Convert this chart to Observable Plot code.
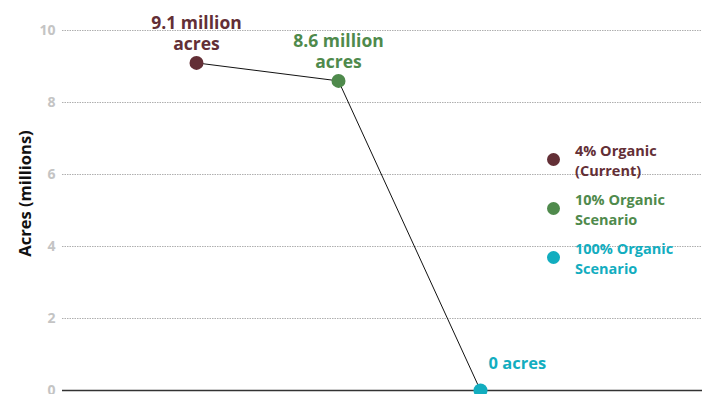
<!DOCTYPE html>
<html>
<head>
<meta charset="utf-8">
<script src="https://cdn.jsdelivr.net/npm/d3@7"></script>
<script src="https://cdn.jsdelivr.net/npm/@observablehq/plot@0.6"></script>
<style>
  html, body { margin: 0; padding: 0; background: #fff; }
  #wrap { position: relative; width: 707px; height: 394px; font-family: "Open Sans", Lato, sans-serif; }
  #legend { position: absolute; left: 547px; top: 141px; }
  .item { display: flex; align-items: center; margin-bottom: 9px; }
  .sw { width: 13px; height: 13px; border-radius: 50%; margin-right: 15px; flex: none; position: relative; top: -2px; }
  .lab { font-size: 14.5px; font-weight: 700; line-height: 20px; }
</style>
</head>
<body>
<div id="wrap"></div>
<script>
const scenarios = ["4% Organic (Current)", "10% Organic Scenario", "100% Organic Scenario"];
const legendLines = [["4% Organic", "(Current)"], ["10% Organic", "Scenario"], ["100% Organic", "Scenario"]];
const acres = [9.1, 8.6, 0];
const pointLabels = ["9.1 million\nacres", "8.6 million\nacres", "0 acres"];
const colors = ["#632f36", "#4f8a4c", "#12adbf"];
const yTicks = [0, 2, 4, 6, 8, 10];
const yTitle = "Acres (millions)";

const data = scenarios.map((s, i) => ({scenario: s, acres: acres[i], label: pointLabels[i], color: colors[i]}));

const chart = Plot.plot({
  width: 707,
  height: 394,
  marginTop: 30,
  marginBottom: 4,
  marginLeft: 62,
  marginRight: 5,
  style: {fontFamily: "'Open Sans', Lato, sans-serif", background: "transparent", overflow: "visible"},
  x: {type: "point", domain: scenarios, padding: 1.25, align: 0.376, axis: null},
  y: {domain: [0, 10], ticks: yTicks},
  marks: [
    Plot.ruleY(yTicks.filter(d => d > 0), {stroke: "#9a9a9a", strokeWidth: 0.8, strokeDasharray: "1.5,1"}),
    Plot.ruleY([0], {stroke: "#333", strokeWidth: 1.6}),
    Plot.axisY({ticks: yTicks, tickSize: 0, tickPadding: 7, fill: "#c4c4c4", fontWeight: 700, fontSize: 14, label: null, tickFormat: d => String(d)}),
    Plot.text([yTitle], {frameAnchor: "left", textAnchor: "middle", rotate: -90, dx: -37, dy: -17, fill: "#111", fontWeight: 700, fontSize: 16.5}),
    Plot.line(data, {x: "scenario", y: "acres", stroke: "#111", strokeWidth: 1}),
    Plot.dot(data, {x: "scenario", y: "acres", r: 7, fill: "color", stroke: "none"}),
    Plot.text(data.filter(d => d.acres > 0), {x: "scenario", y: "acres", text: "label", fill: "color", lineAnchor: "bottom", dy: -13, fontSize: 17.5, fontWeight: 700, lineHeight: 1.2}),
    Plot.text(data.filter(d => d.acres === 0), {x: "scenario", y: "acres", text: "label", fill: "color", textAnchor: "start", dx: 8, dy: -27, fontSize: 16.5, fontWeight: 700})
  ]
});

const wrap = document.getElementById("wrap");
wrap.appendChild(chart);

const legend = document.createElement("div");
legend.id = "legend";
scenarios.forEach((s, i) => {
  const item = document.createElement("div");
  item.className = "item";
  const sw = document.createElement("div");
  sw.className = "sw";
  sw.style.background = colors[i];
  const lab = document.createElement("div");
  lab.className = "lab";
  lab.style.color = colors[i];
  lab.innerHTML = legendLines[i].join("<br>");
  item.appendChild(sw);
  item.appendChild(lab);
  legend.appendChild(item);
});
wrap.appendChild(legend);
</script>
</body>
</html>
